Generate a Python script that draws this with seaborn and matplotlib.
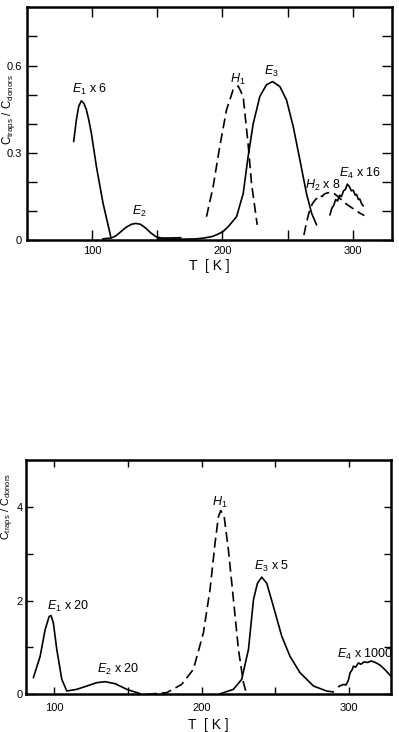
import numpy as np
import pandas as pd
import matplotlib
matplotlib.use("Agg")
import matplotlib.pyplot as plt
import seaborn as sns

# ---- top panel data (T in K, C_traps / C_donors) ----
top_e1_T = [85.6, 87.7, 89.5, 91.5, 93.5, 95.4, 97.3, 99.2, 103.1, 108.2, 114.1]
top_e1_y = [0.339, 0.414, 0.460, 0.479, 0.470, 0.448, 0.412, 0.368, 0.253, 0.127, 0.013]

top_e2_T = [108, 114.6, 118, 122, 126, 130, 133.3, 137, 141, 145, 149, 153, 160, 168]
top_e2_y = [0.005, 0.008, 0.015, 0.030, 0.045, 0.055, 0.058, 0.055, 0.042, 0.025, 0.012, 0.008, 0.008, 0.009]

top_e3_T = [150, 160, 170, 180, 186, 192, 196, 200.5, 205, 210.8, 215.9, 219.7, 223.6, 228.7,
            233.8, 238.5, 244.1, 249.2, 254.4, 259.5, 264.6, 268.5, 272.3]
top_e3_y = [0.005, 0.004, 0.004, 0.005, 0.008, 0.013, 0.020, 0.030, 0.050, 0.081, 0.160, 0.288, 0.400, 0.494,
            0.534, 0.545, 0.528, 0.482, 0.390, 0.276, 0.160, 0.093, 0.053]

top_h1_T = [187.7, 192.8, 197.9, 203.1, 208.2, 212.1, 215.9, 219.7, 222.3, 226.7]
top_h1_y = [0.081, 0.184, 0.322, 0.448, 0.517, 0.530, 0.494, 0.330, 0.196, 0.053]

top_h2_T = [262.6, 264.5, 266.5, 269, 271.5, 273.5, 275, 276.5, 278, 280, 283, 286, 290, 295, 300, 305, 309]
top_h2_y = [0.018, 0.060, 0.095, 0.125, 0.140, 0.148, 0.155, 0.150, 0.158, 0.162, 0.165, 0.160, 0.145,
            0.125, 0.110, 0.095, 0.085]

top_e4_T = [282.6, 284, 285.5, 287, 288.5, 290, 291.5, 293, 294.5, 296, 297.5, 299, 300.5, 302, 303,
            304.5, 305.5, 307, 308.2]
top_e4_y = [0.087, 0.110, 0.120, 0.140, 0.135, 0.155, 0.150, 0.170, 0.175, 0.193, 0.185, 0.170, 0.172,
            0.155, 0.158, 0.140, 0.142, 0.125, 0.118]

# ---- bottom panel data ----
bot_e12_T = [85.7, 90.3, 93.7, 96.4, 97.7, 99.3, 101.6, 105, 108.4, 115.2, 122, 128.7, 134.4, 141.2,
             149.1, 158.1]
bot_e12_y = [0.354, 0.81, 1.38, 1.66, 1.68, 1.52, 0.956, 0.32, 0.07, 0.106, 0.177, 0.248, 0.269, 0.227,
             0.106, 0.014]

bot_h1_T = [162.7, 176.2, 186.4, 194.3, 201.1, 205.6, 209, 211.3, 212.9, 215.2, 218.1, 221.5, 224.9,
            228.3, 230.5]
bot_h1_y = [0.0, 0.035, 0.212, 0.531, 1.31, 2.23, 3.22, 3.79, 3.92, 3.79, 3.08, 2.02, 0.956, 0.248, 0.0]

bot_e3_T = [212.4, 221.5, 227.1, 231.7, 235.1, 237.8, 240.7, 244.1, 248.6, 254.3, 259.9, 266.7, 275.8,
            284.8, 289.4]
bot_e3_y = [0.01, 0.106, 0.319, 0.956, 2.02, 2.37, 2.50, 2.37, 1.88, 1.24, 0.81, 0.46, 0.177, 0.07, 0.05]

bot_e4_T = [292.8, 294.5, 296.2, 298, 299.5, 300.7, 302, 303, 304.5, 306.3, 308, 310, 312.5, 315, 317,
            319, 321.5, 324.5, 328]
bot_e4_y = [0.163, 0.19, 0.21, 0.20, 0.30, 0.46, 0.52, 0.60, 0.58, 0.67, 0.64, 0.69, 0.68, 0.71, 0.69,
            0.66, 0.61, 0.52, 0.40]

top_labels = [(r"$E_1$ x 6", 98, 0.517), (r"$E_2$", 136.4, 0.099), (r"$H_1$", 211.5, 0.551),
              (r"$E_3$", 237.7, 0.58), (r"$H_2$ x 8", 277.4, 0.19), (r"$E_4$ x 16", 305.6, 0.23)]
bot_labels = [(r"$E_1$ x 20", 109.5, 1.88), (r"$E_2$ x 20", 143.4, 0.53), (r"$H_1$", 212.4, 4.1),
              (r"$E_3$ x 5", 247.5, 2.73), (r"$E_4$ x 1000", 310.9, 0.85)]

sns.set_style("ticks")
plt.rcParams["font.family"] = ["Liberation Sans", "DejaVu Sans"]
plt.rcParams["mathtext.fontset"] = "custom"
plt.rcParams["mathtext.rm"] = "Liberation Sans"
plt.rcParams["mathtext.it"] = "Liberation Sans:italic"
for k in ["text.color", "axes.edgecolor", "axes.labelcolor", "xtick.color", "ytick.color"]:
    plt.rcParams[k] = "black"

fig = plt.figure(figsize=(3.99, 7.32), dpi=100)
ax1 = fig.add_axes([0.0685, 0.6717, 0.913, 0.3183])
ax2 = fig.add_axes([0.0644, 0.0515, 0.915, 0.3201])

dash = (0, (6, 3))
lw = 1.2

def draw(ax, T, y, ls="-"):
    sns.lineplot(x=T, y=y, ax=ax, color="black", lw=lw, linestyle=ls, sort=False, estimator=None)

draw(ax1, top_e1_T, top_e1_y)
draw(ax1, top_e2_T, top_e2_y)
draw(ax1, top_e3_T, top_e3_y)
draw(ax1, top_h1_T, top_h1_y, dash)
draw(ax1, top_h2_T, top_h2_y, dash)
draw(ax1, top_e4_T, top_e4_y)

draw(ax2, bot_e12_T, bot_e12_y)
draw(ax2, bot_h1_T, bot_h1_y, dash)
draw(ax2, bot_e3_T, bot_e3_y)
draw(ax2, bot_e4_T, bot_e4_y)

for txt, x, y in top_labels:
    ax1.text(x, y, txt, ha="center", va="center", fontsize=9)
for txt, x, y in bot_labels:
    ax2.text(x, y, txt, ha="center", va="center", fontsize=9)

ylab = r"$\mathrm{C}_{\mathrm{traps}}$ / $\mathrm{C}_{\mathrm{donors}}$"

def style(ax, xlim, ylim, yticks, ylabels, ymin, tlen, lx, ly, lsize, pad, ypad, lpad):
    ax.set_xlim(*xlim)
    ax.set_ylim(*ylim)
    ax.set_xticks([100, 200, 300])
    ax.set_xticks([150, 250], minor=True)
    ax.set_yticks(yticks)
    ax.set_yticklabels(ylabels)
    ax.set_yticks(ymin, minor=True)
    ax.tick_params(which="both", direction="in", top=True, right=True, length=tlen, width=1,
                   labelsize=8, pad=pad)
    ax.tick_params(axis="y", pad=ypad)
    for s in ax.spines.values():
        s.set_linewidth(1.8)
        s.set_color("black")
    ax.set_xlabel("T  [ K ]", fontsize=10, labelpad=lpad)
    ax.set_ylabel(ylab, fontsize=lsize)
    ax.yaxis.set_label_coords(lx, ly)

style(ax1, (50, 330), (0, 0.8), [0, 0.3, 0.6], ["0", "0.3", "0.6"],
      [0.1, 0.2, 0.4, 0.5, 0.7], 7, -0.027, 0.56, 8.3, 4, 4, 2)
style(ax2, (80.5, 328.3), (0, 5), [0, 2, 4], ["0", "2", "4"],
      [1, 3], 5, -0.027, 0.80, 7.8, 6, 2, 4)

fig.savefig("out.png", dpi=100)
